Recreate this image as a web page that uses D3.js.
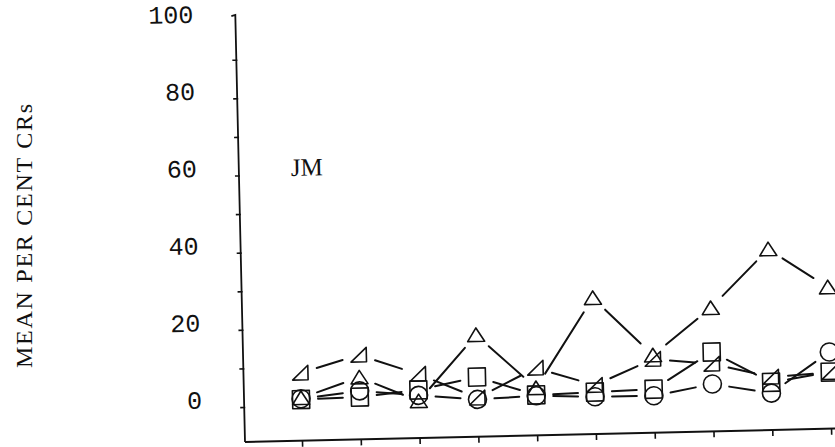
<!DOCTYPE html>
<html><head><meta charset="utf-8">
<script src="https://cdn.jsdelivr.net/npm/d3@7"></script>
<style>html,body{margin:0;background:#fff}</style>
</head><body>
<svg id="chart" width="835" height="447"></svg>
<script>
// Sessions along the horizontal axis
const sessions = [1, 2, 3, 4, 5, 6, 7, 8, 9, 10];

// Mean per cent CRs for each condition (one array per marker type)
const triangleSeries = [2, 7, 0.5, 17.3, 3.2, 26.2, 11, 22.9, 37.8, 27.6];
const wedgeSeries    = [8.5, 12.8, 7.5, 1, 8.4, 3.6, 10, 8.4, 4.7, 5.5];
const squareSeries   = [1.6, 1.9, 3.4, 6.4, 1.4, 1.8, 2.2, 11.5, 3.3, 5.6];
const circleSeries   = [1.8, 3.5, 2, 0.6, 1.2, 0.6, 0.5, 3.2, 0.5, 10.8];

const yTickValues = [0, 20, 40, 60, 80, 100];
const yTickLabels = ["0", "20", "40", "60", "80", "100"];
const yMinorTicks = [0, 10, 20, 30, 40, 50, 60, 70, 80, 90];
const yAxisTitle = "MEAN PER CENT CRs";
const panelLabel = "JM";

const svg = d3.select("#chart");
const ink = "#111";
const monoFace = "'Liberation Mono', 'Courier New', monospace";
const serifFace = "'Liberation Serif', 'DejaVu Serif', serif";

const origin = { x: 245, y: 442 };
const x = d3.scaleLinear().domain([0, 10]).range([243.2, 831.2]);
const y = d3.scaleLinear().domain([0, 100]).range([407, 21]);

// the whole plotting frame sits at a slight tilt
const plot = svg.append("g")
  .attr("transform", `rotate(-1.3 ${origin.x} ${origin.y})`);

// vertical axis line with a small hook at its top
plot.append("path")
  .attr("d", `M${origin.x},${origin.y} L${origin.x},${y(101.6)} l-4,1`)
  .attr("fill", "none").attr("stroke", ink).attr("stroke-width", 1.8);

// horizontal axis line
plot.append("line")
  .attr("x1", origin.x).attr("x2", 850)
  .attr("y1", origin.y).attr("y2", origin.y)
  .attr("stroke", ink).attr("stroke-width", 2);

// minor ticks on the vertical axis
const yAxis = plot.append("g")
  .attr("transform", `translate(${origin.x + 1},0)`)
  .call(d3.axisLeft(y).tickValues(yMinorTicks).tickSize(5).tickFormat(""));
yAxis.select(".domain").remove();
yAxis.selectAll("line").attr("stroke", ink).attr("stroke-width", 1.6);

// ticks under the horizontal axis
const xAxis = plot.append("g")
  .attr("transform", `translate(0,${origin.y})`)
  .call(d3.axisBottom(x).tickValues(sessions).tickSize(6).tickFormat(""));
xAxis.select(".domain").remove();
xAxis.selectAll("line").attr("stroke", ink).attr("stroke-width", 1.6);

// value labels on the vertical axis
plot.selectAll("text.ylab")
  .data(yTickValues)
  .join("text")
  .attr("class", "ylab")
  .attr("x", origin.x - 42)
  .attr("y", d => y(d) - 8)
  .attr("dy", "0.35em")
  .attr("text-anchor", "end")
  .attr("font-family", monoFace)
  .attr("font-size", 25)
  .attr("fill", ink)
  .text((d, i) => yTickLabels[i]);

// subject label inside the frame
plot.append("text")
  .attr("x", 297).attr("y", 177)
  .attr("font-family", serifFace)
  .attr("font-size", 25)
  .attr("fill", ink)
  .text(panelLabel);

// axis title
svg.append("text")
  .attr("transform", "translate(32,236) rotate(-90)")
  .attr("x", -132)
  .attr("textLength", 264)
  .attr("lengthAdjust", "spacing")
  .attr("font-family", serifFace)
  .attr("font-size", 24)
  .attr("fill", ink)
  .text(yAxisTitle);

// marker outlines, centred on (0,0)
function markerPath(shape) {
  const p = d3.path();
  if (shape === "triangle") {
    p.moveTo(0, -7); p.lineTo(8.5, 6.5); p.lineTo(-8.5, 6.5); p.closePath();
  } else if (shape === "wedge") {
    p.moveTo(7.5, -7.5); p.lineTo(7.5, 7); p.lineTo(-8, 7); p.closePath();
  } else if (shape === "square") {
    p.rect(-8.5, -9, 17, 18);
  } else {
    p.arc(0, 0, 9, 0, 2 * Math.PI); p.closePath();
  }
  return p.toString();
}

const series = [
  { values: triangleSeries, shape: "triangle" },
  { values: wedgeSeries, shape: "wedge" },
  { values: squareSeries, shape: "square" },
  { values: circleSeries, shape: "circle" }
];

// connecting strokes stop short of each marker
const gap = 17;
series.forEach(s => {
  const pts = s.values.map((v, i) => [x(sessions[i]), y(v)]);
  const segs = d3.pairs(pts).map(([a, b]) => {
    const dx = b[0] - a[0], dy = b[1] - a[1];
    const len = Math.hypot(dx, dy);
    const ux = dx / len, uy = dy / len;
    return [[a[0] + ux * gap, a[1] + uy * gap], [b[0] - ux * gap, b[1] - uy * gap]];
  });
  plot.append("g").selectAll("line")
    .data(segs)
    .join("line")
    .attr("x1", d => d[0][0]).attr("y1", d => d[0][1])
    .attr("x2", d => d[1][0]).attr("y2", d => d[1][1])
    .attr("stroke", ink).attr("stroke-width", 2)
    .attr("stroke-linecap", "round");
});

series.forEach(s => {
  plot.append("g").selectAll("path")
    .data(s.values)
    .join("path")
    .attr("transform", (v, i) => `translate(${x(sessions[i])},${y(v)})`)
    .attr("d", markerPath(s.shape))
    .attr("fill", "none")
    .attr("stroke", ink)
    .attr("stroke-width", 1.6)
    .attr("stroke-linejoin", "round");
});
</script>
</body></html>
